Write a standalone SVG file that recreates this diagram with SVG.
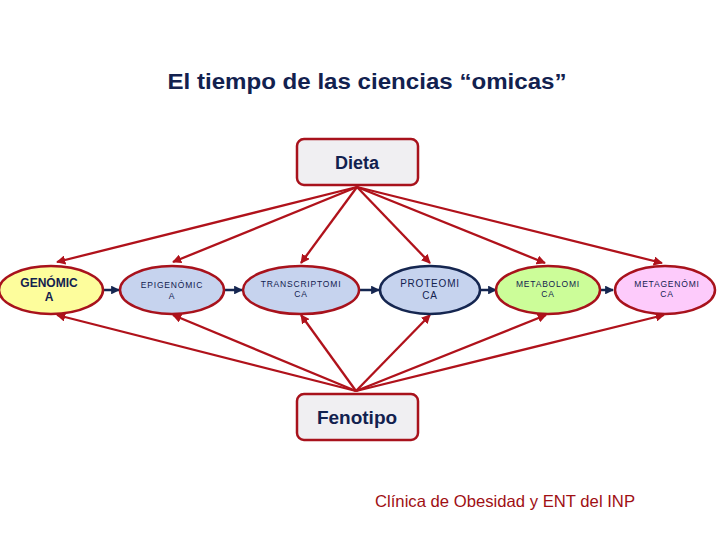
<svg xmlns="http://www.w3.org/2000/svg" width="720" height="540" viewBox="0 0 720 540">
<defs>
<marker id="ar" viewBox="0 0 10 10" refX="9" refY="5" markerWidth="4" markerHeight="4" orient="auto" markerUnits="strokeWidth"><path d="M0,0 L10,5 L0,10 z" fill="#b0121b"/></marker>
<marker id="an" viewBox="0 0 10 10" refX="9" refY="5" markerWidth="3.5" markerHeight="3.5" orient="auto" markerUnits="strokeWidth"><path d="M0,0 L10,5 L0,10 z" fill="#152650"/></marker>
<style>
.t{font-family:"Liberation Sans",Arial,sans-serif;fill:#12214f;text-anchor:middle}
.box{fill:#f0eff2;stroke:#a8121c;stroke-width:2.5}
.el{stroke:#a8121c;stroke-width:2.5}
.r{stroke:#b0121b;stroke-width:2.3;fill:none;marker-end:url(#ar)}
.n{stroke:#152650;stroke-width:2.5;fill:none;marker-end:url(#an)}
.s{font-size:8.5px;letter-spacing:0.8px}
</style>
</defs>
<rect width="720" height="540" fill="#fff"/>
<text class="t" x="367" y="89" font-size="22" font-weight="bold" textLength="399" lengthAdjust="spacingAndGlyphs">El tiempo de las ciencias “omicas”</text>
<g id="connectors">
<line class="r" x1="357" y1="187" x2="57" y2="262"/>
<line class="r" x1="357" y1="187" x2="173" y2="262"/>
<line class="r" x1="357" y1="187" x2="301" y2="263"/>
<line class="r" x1="357" y1="187" x2="430" y2="263"/>
<line class="r" x1="357" y1="187" x2="545" y2="263"/>
<line class="r" x1="357" y1="187" x2="662" y2="263"/>
<line class="r" x1="356" y1="391" x2="57" y2="315"/>
<line class="r" x1="356" y1="391" x2="173" y2="315"/>
<line class="r" x1="356" y1="391" x2="301" y2="315"/>
<line class="r" x1="356" y1="391" x2="430" y2="315"/>
<line class="r" x1="356" y1="391" x2="546" y2="315"/>
<line class="r" x1="356" y1="391" x2="664" y2="315"/>
<line class="n" x1="103" y1="290" x2="119" y2="290"/>
<line class="n" x1="225" y1="290" x2="242" y2="290"/>
<line class="n" x1="360" y1="290" x2="379" y2="290"/>
<line class="n" x1="481" y1="290" x2="496" y2="290"/>
<line class="n" x1="600" y1="290" x2="613" y2="290"/>
</g>
<g id="dieta"><rect class="box" x="297" y="139" width="121" height="46" rx="7"/><text class="t" x="357" y="169" font-size="18" font-weight="bold">Dieta</text></g>
<g id="fenotipo"><rect class="box" x="297" y="394" width="121" height="46" rx="7"/><text class="t" x="357" y="424" font-size="19" font-weight="bold">Fenotipo</text></g>
<g id="genomica"><ellipse class="el" cx="51" cy="290" rx="52" ry="24" fill="#fdfd9c"/><text class="t" x="49" y="287" font-size="12" font-weight="bold">GENÓMIC</text><text class="t" x="49" y="301" font-size="12" font-weight="bold">A</text></g>
<g id="epigenomica"><ellipse class="el" cx="172" cy="290" rx="52" ry="24" fill="#c6d3ee"/><text class="t s" x="172" y="288">EPIGENÓMIC</text><text class="t s" x="172" y="299">A</text></g>
<g id="transcriptomica"><ellipse class="el" cx="301" cy="290" rx="58" ry="24" fill="#c6d3ee"/><text class="t s" x="301" y="287">TRANSCRIPTOMI</text><text class="t s" x="301" y="297">CA</text></g>
<g id="proteomica"><ellipse cx="430" cy="290" rx="50" ry="24" fill="#c6d3ee" stroke="#152650" stroke-width="2.5"/><text class="t" x="430" y="287" font-size="10" letter-spacing="0.8">PROTEOMI</text><text class="t" x="430" y="299" font-size="10" letter-spacing="0.8">CA</text></g>
<g id="metabolomica"><ellipse class="el" cx="548" cy="290" rx="52" ry="24" fill="#ccfd99"/><text class="t s" x="548" y="287">METABOLOMI</text><text class="t s" x="548" y="297">CA</text></g>
<g id="metagenomica"><ellipse class="el" cx="665" cy="290" rx="50" ry="24" fill="#fdcbfb"/><text class="t s" x="667" y="287">METAGENÓMI</text><text class="t s" x="667" y="297">CA</text></g>
<text x="375" y="507" font-family="&quot;Liberation Sans&quot;,Arial,sans-serif" font-size="16.5" fill="#a00f14" textLength="260" lengthAdjust="spacingAndGlyphs">Clínica de Obesidad y ENT del INP</text>
</svg>
